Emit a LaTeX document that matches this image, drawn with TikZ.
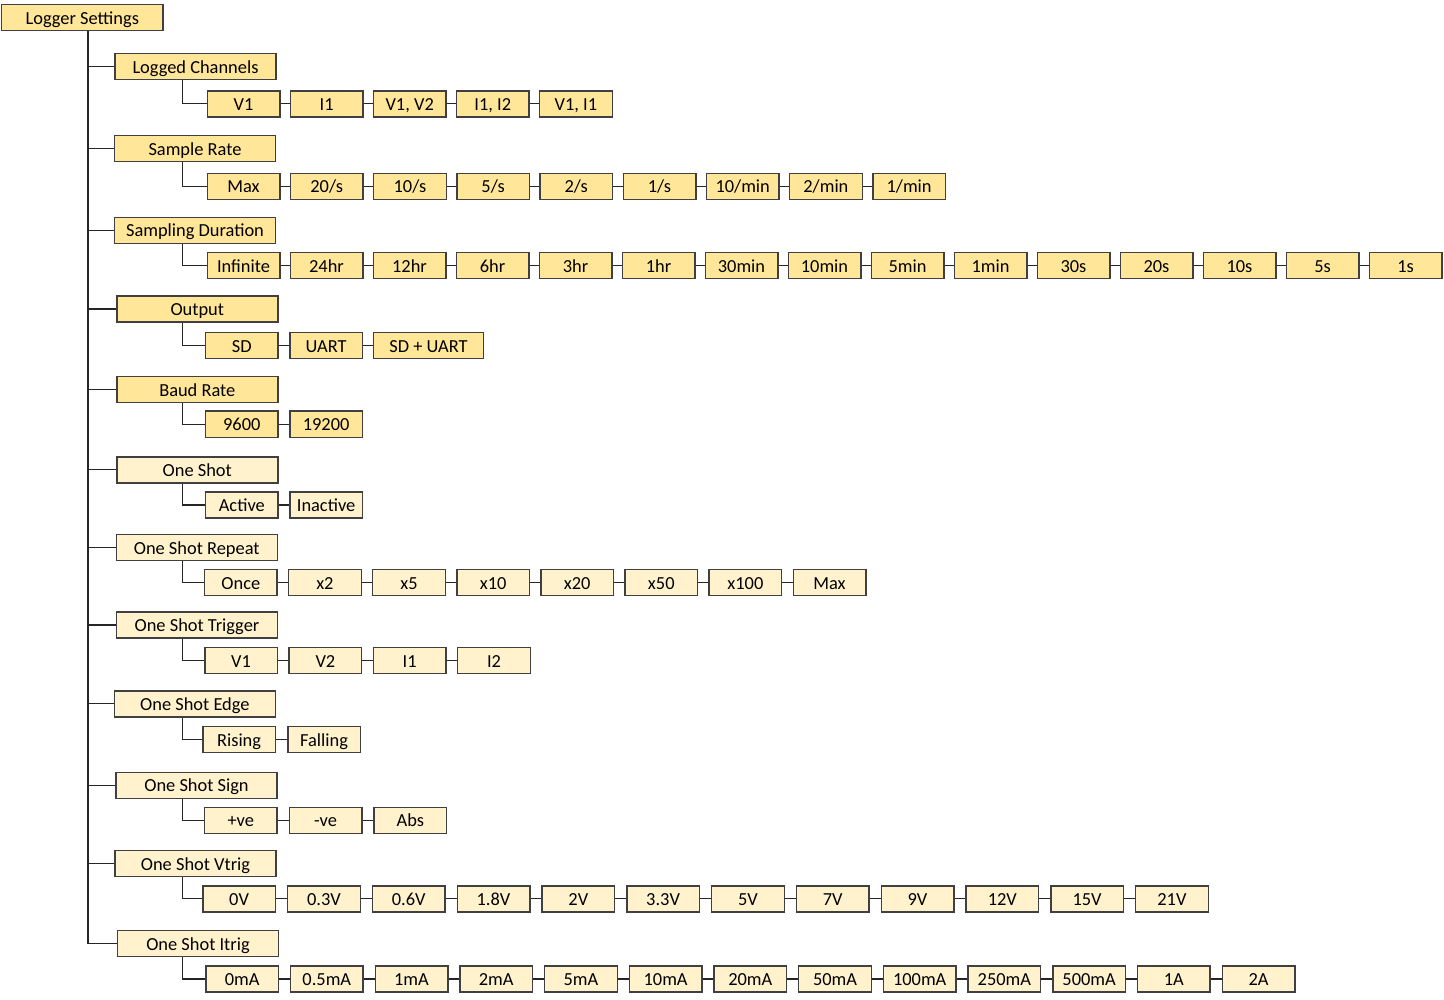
\documentclass[tikz,border=0pt]{standalone}
\usepackage{fontspec}
\setmainfont{Carlito}
\definecolor{gold}{HTML}{FFE699}
\definecolor{cream}{HTML}{FFF2CC}
\definecolor{boxline}{HTML}{404040}
\definecolor{linecol}{HTML}{262626}
% one row of option boxes, chained left to right
% #1 name prefix, #2 style, #3 left edge of first box, #4 pitch, #5 centre y, #6 labels
\newcommand\optrow[6]{%
  \foreach \t [count=\i from 0] in {#6} {
    \node[#2] (#1-\i) at ({#3+\i*#4+36.8},#5) {\t};
    \ifnum\i>0
      \pgfmathtruncatemacro\prev{\i-1}
      \draw[link] (#1-\prev.east) -- (#1-\i.west);
    \fi
  }}
\begin{document}
\begin{tikzpicture}[x=1pt,y=-1pt,
  box/.style={draw=boxline, line width=1.4pt, minimum height=26pt,
    minimum width=72.6pt, inner sep=0pt,
    font=\fontsize{18.4}{22}\selectfont, text height=13.3pt, text depth=0pt},
  hot/.style={box, fill=gold},
  cool/.style={box, fill=cream},
  head/.style={minimum width=161pt},
  link/.style={draw=linecol, line width=1.1pt}]
\useasboundingbox (0,0) rectangle (1444,1000);

\coordinate (trk) at (88,0);
\coordinate (elb) at (182.7,0);

% root
\node[hot, minimum width=161.3pt] (root) at (82.3,17.7) {Logger Settings};

% settings
\node[hot, head] (h1) at (195.5,66.5) {Logged Channels};
\node[hot, head] (h2) at (195,148.5) {Sample Rate};
\node[hot, head] (h3) at (195,230.3) {Sampling Duration};
\node[hot, head] (h4) at (197.3,309) {Output};
\node[hot, head] (h5) at (197.3,389.7) {Baud Rate};
\node[cool, head] (h6) at (197.3,469.8) {One Shot};
\node[cool, head] (h7) at (196.7,547.7) {One Shot Repeat};
\node[cool, head] (h8) at (197,625) {One Shot Trigger};
\node[cool, head] (h9) at (194.9,703.8) {One Shot Edge};
\node[cool, head] (h10) at (196.5,785.2) {One Shot Sign};
\node[cool, head] (h11) at (195.5,863.5) {One Shot Vtrig};
\node[cool, head] (h12) at (198,943.7) {One Shot Itrig};

% options
\optrow{lc}{hot}{206.7}{83.1}{103.9}{V1, I1, {V1, V2}, {I1, I2}, {V1, I1}}
\optrow{sr}{hot}{206.7}{83.2}{186.3}{Max, 20/s, 10/s, 5/s, 2/s, 1/s, 10/min, 2/min, 1/min}
\optrow{sd}{hot}{206.7}{83.0}{265.8}{Infinite, 24hr, 12hr, 6hr, 3hr, 1hr, 30min, 10min, 5min, 1min, 30s, 20s, 10s, 5s, 1s}
\optrow{out}{hot}{205}{84.3}{345.7}{SD, UART}
\node[hot, minimum width=110.2pt] (out-2) at (428.5,345.7) {SD + UART};
\draw[link] (out-1.east) -- (out-2.west);
\optrow{br}{hot}{205}{84.3}{424.2}{9600, 19200}
\optrow{os}{cool}{205}{84.3}{505}{Active, Inactive}
\optrow{osr}{cool}{204}{84.1}{582.7}{Once, x2, x5, x10, x20, x50, x100, Max}
\optrow{ost}{cool}{204.3}{84.3}{660.7}{V1, V2, I1, I2}
\optrow{ose}{cool}{202.3}{85}{739.7}{Rising, Falling}
\optrow{oss}{cool}{204}{84.8}{820.2}{+ve, -ve, Abs}
\optrow{osv}{cool}{202.3}{84.8}{898.8}{0V, 0.3V, 0.6V, 1.8V, 2V, 3.3V, 5V, 7V, 9V, 12V, 15V, 21V}
\optrow{osi}{cool}{205.3}{84.7}{979}{0mA, 0.5mA, 1mA, 2mA, 5mA, 10mA, 20mA, 50mA, 100mA, 250mA, 500mA, 1A, 2A}

% trunk and branches
\draw[link] (root.south -| trk) -- (trk |- h12.west);
\foreach \h in {h1,h2,h3,h4,h5,h6,h7,h8,h9,h10,h11,h12}
  \draw[link] (trk |- \h.west) -- (\h.west);

% elbows from each setting to its first option
\foreach \h/\r in {h1/lc,h2/sr,h3/sd,h4/out,h5/br,h6/os,h7/osr,h8/ost,h9/ose,h10/oss,h11/osv,h12/osi}
  \draw[link] (\h.south -| elb) |- (\r-0.west);
\end{tikzpicture}
\end{document}
